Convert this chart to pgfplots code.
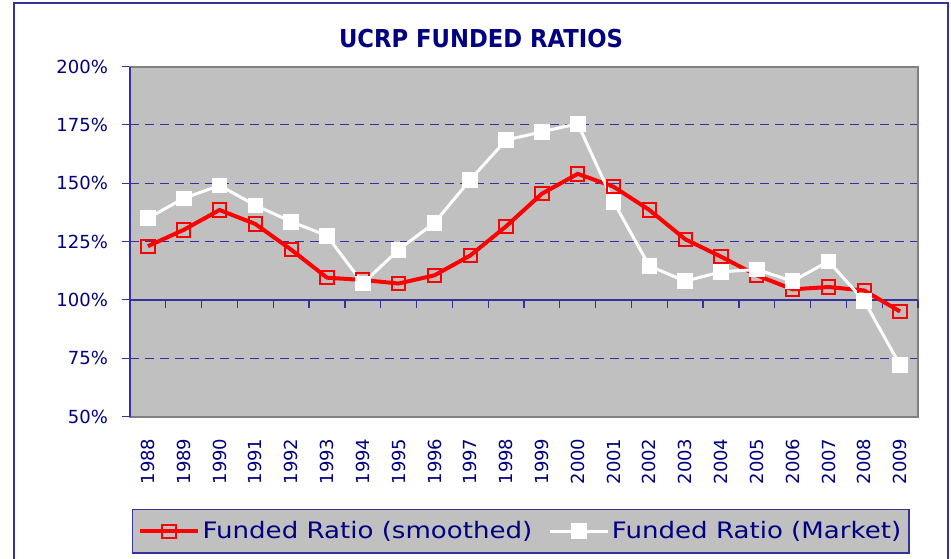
\documentclass[border=0pt]{standalone}
\usepackage{fontspec}
\setmainfont{DejaVu Sans}
\newfontfamily\titlefont{DejaVu Sans}[FakeStretch=0.92]
\newfontfamily\legfont{DejaVu Sans}[FakeStretch=1.15]
\usepackage{pgfplots}
\pgfplotsset{compat=1.18}

\definecolor{navy}{RGB}{0,0,128}
\definecolor{gridblue}{RGB}{51,51,153}
\definecolor{plotgray}{RGB}{192,192,192}
\definecolor{bordergray}{RGB}{128,128,128}

\begin{document}
\begin{tikzpicture}
% 1 px of the reference = 0.75pt
\useasboundingbox (0pt,0pt) rectangle (713.25pt,418.5pt);
\fill[white] (0pt,0pt) rectangle (713.25pt,418.5pt);
\draw[gridblue,line width=1.3pt] (10.5pt,416.25pt) rectangle (711pt,-15pt);
\node[font=\titlefont\bfseries\fontsize{18.5}{22}\selectfont,text=navy] at (360.75pt,389.25pt) {UCRP FUNDED RATIOS};

\begin{axis}[
  at={(97.5pt,106.125pt)}, anchor=south west,
  scale only axis, width=591pt, height=262.5pt,
  xmin=-0.5, xmax=21.5, ymin=50, ymax=200,
  clip=false,
  axis background/.style={fill=plotgray},
  axis line style={draw=bordergray, line width=1.5pt},
  ytick={50,75,100,125,150,175,200},
  yticklabels={50\%,75\%,100\%,125\%,150\%,175\%,200\%},
  xtick={0,...,21},
  xticklabels={1988,1989,1990,1991,1992,1993,1994,1995,1996,1997,1998,1999,2000,2001,2002,2003,2004,2005,2006,2007,2008,2009},
  xtick style={draw=none},
  ytick style={draw=gridblue, line width=0.9pt},
  ytick pos=left,
  tick align=outside, major tick length=6pt,
  ymajorgrids,
  grid style={gridblue, dash pattern=on 6.75pt off 4.5pt, line width=0.9pt},
  xticklabel shift=7pt,
  yticklabel shift=7pt,
  x tick label style={rotate=90, anchor=east, font=\fontsize{13.5}{14}\selectfont, text=navy},
  y tick label style={font=\fontsize{13.5}{14}\selectfont, text=navy},
  legend columns=2,
  legend style={at={(0.496,-0.328)}, anchor=center, fill=plotgray, draw=gridblue,
    line width=1.1pt, text=navy, font=\legfont\fontsize{17}{20}\selectfont,
    inner xsep=4pt, inner ysep=7pt,
    /tikz/every even column/.append style={column sep=10pt}},
  legend image code/.code={\draw[mark repeat=2,mark phase=2] plot coordinates {(0pt,0pt) (21.75pt,0pt) (43.5pt,0pt)};},
]
% solid axis line at 100% with ticks between categories
\draw[gridblue, line width=1pt] (axis cs:-0.5,100) -- (axis cs:21.5,100);
\pgfplotsinvokeforeach{0,...,22}{\draw[gridblue, line width=0.9pt] (axis cs:#1-0.5,100) -- ++(0pt,-6pt);}
\draw[gridblue, line width=1.3pt] (rel axis cs:0,0) -- (rel axis cs:0,1);

\addplot[red, line width=3pt, mark=square, mark size=5pt, mark options={line width=1.5pt, fill=none}]
  coordinates {(0,123) (1,130) (2,138.5) (3,132.5) (4,121.5) (5,109.5) (6,108.5) (7,107) (8,110.5) (9,119) (10,131.5) (11,145.5) (12,154) (13,148.5) (14,138.5) (15,126) (16,118.5) (17,110.5) (18,104.5) (19,105.5) (20,104) (21,95)};
\addlegendentry{Funded Ratio (smoothed)}
\addplot[white, line width=2.25pt, mark=square*, mark size=5.5pt, mark options={fill=white, draw=white, line width=0pt}]
  coordinates {(0,135) (1,143.5) (2,149) (3,140.5) (4,133.5) (5,127.5) (6,107) (7,121.5) (8,133) (9,151.5) (10,168.5) (11,172) (12,175.5) (13,142) (14,114.5) (15,108) (16,112) (17,113) (18,108) (19,116.5) (20,99.5) (21,72)};
\addlegendentry{Funded Ratio (Market)}
\end{axis}
\end{tikzpicture}
\end{document}
